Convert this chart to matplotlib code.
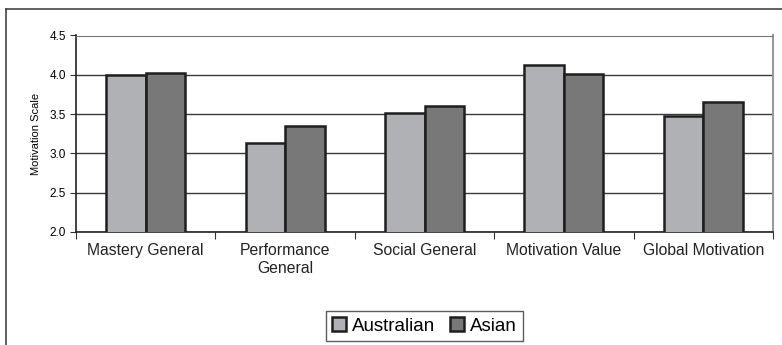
import numpy as np
import matplotlib.pyplot as plt

categories = ['Mastery General', 'Performance\nGeneral', 'Social General',
              'Motivation Value', 'Global Motivation']
australian = [4.00, 3.13, 3.51, 4.13, 3.47]
asian = [4.02, 3.35, 3.60, 4.01, 3.66]
yticks = [2.0, 2.5, 3.0, 3.5, 4.0, 4.5]

plt.rcParams['font.family'] = ['Liberation Sans', 'DejaVu Sans']

fig = plt.figure(figsize=(7.82, 3.45), dpi=100)
ax = fig.add_axes([76 / 782, 1 - 232 / 345, 697 / 782, 196.5 / 345])

# outer chart frame (top and left edges only visible)
fig.add_artist(plt.Line2D([6 / 782, 6 / 782], [0, 1 - 9 / 345],
                          transform=fig.transFigure, color='#444444', lw=1.2))
fig.add_artist(plt.Line2D([6 / 782, 1], [1 - 9 / 345, 1 - 9 / 345],
                          transform=fig.transFigure, color='#444444', lw=1.2))

x = np.arange(len(categories))
w = 0.283
ax.bar(x - w / 2, australian, w, color='#b0b1b5', edgecolor='#1e1e1e',
       linewidth=1.8, label='Australian', zorder=3)
ax.bar(x + w / 2, asian, w, color='#787878', edgecolor='#1e1e1e',
       linewidth=1.8, label='Asian', zorder=3)

ax.set_xlim(-0.5, len(categories) - 0.5)
ax.set_ylim(2.0, 4.5)
ax.set_yticks(yticks)
ax.set_yticklabels([f'{v:.1f}' for v in yticks], fontsize=8.5)
ax.yaxis.grid(True, color='#3a3a3a', linewidth=1.0, zorder=0)
ax.set_axisbelow(True)

ax.set_xticks(np.arange(len(categories) + 1) - 0.5, minor=False)
ax.set_xticklabels([])
ax.set_xticks(x, minor=True)
ax.set_xticklabels(categories, minor=True, fontsize=11.3, color='#222222')
ax.tick_params(axis='x', which='minor', length=0, pad=8)
ax.tick_params(axis='x', which='major', length=5, direction='out', color='#333333')
ax.tick_params(axis='y', length=4, direction='out', color='#333333', pad=3)

ax.spines['left'].set_color('#222222')
ax.spines['bottom'].set_color('#222222')
ax.spines['left'].set_linewidth(1.2)
ax.spines['bottom'].set_linewidth(1.2)
ax.spines['top'].set_color('#777777')
ax.spines['right'].set_color('#999999')
ax.spines['right'].set_linewidth(1.5)

ax.set_ylabel('Motivation Scale', fontsize=8, labelpad=6)

leg = fig.legend(loc='center', bbox_to_anchor=(424.5 / 782, 1 - 326 / 345),
                 ncol=2, fontsize=13.5, frameon=True, fancybox=False,
                 edgecolor='#333333', handlelength=0.75, handleheight=0.75,
                 handletextpad=0.3, columnspacing=0.8, borderpad=0.35,
                 borderaxespad=0)
leg.get_frame().set_linewidth(1.0)

fig.savefig('out.png', dpi=100)
